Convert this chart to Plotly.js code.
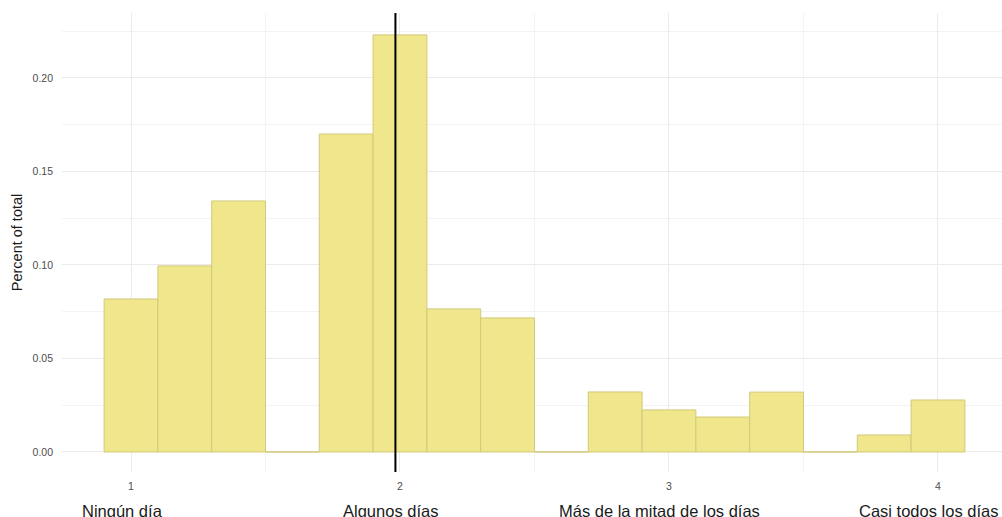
<!DOCTYPE html>
<html>
<head>
<meta charset="utf-8">
<script src="https://cdn.plot.ly/plotly-3.0.1.min.js"></script>
<style>html,body{margin:0;padding:0;background:#fff;}#chart{width:1002px;height:517px;}</style>
</head>
<body>
<div id="chart"></div>
<script>
// Histogram bins (centers) and proportions
const binCenters = [1.0, 1.2, 1.4, 1.6, 1.8, 2.0, 2.2, 2.4, 2.6, 2.8, 3.0, 3.2, 3.4, 3.6, 3.8, 4.0];
const proportions = [0.0818, 0.0995, 0.1342, 0, 0.170, 0.223, 0.0765, 0.0717, 0, 0.0321, 0.0225, 0.0187, 0.032, 0, 0.0091, 0.0278];
const binWidth = 0.2;
const meanValue = [1.983];
const tickValues = [1, 2, 3, 4];
const categoryLabels = ["Ningún día", "Algunos días", "Más de la mitad de los días", "Casi todos los días"];
const yTicks = [0, 0.05, 0.10, 0.15, 0.20];
const yTickText = ["0.00", "0.05", "0.10", "0.15", "0.20"];

const font = "Liberation Sans, Arial, sans-serif";

const trace = {
  type: "bar",
  x: binCenters,
  y: proportions,
  width: binCenters.map(() => binWidth),
  marker: { color: "#F0E68C", line: { color: "#D2C979", width: 1 } },
  hoverinfo: "x+y"
};

const annotations = tickValues.map((v, i) => ({
  x: v, xref: "x", y: 0, yref: "paper", yanchor: "top", yshift: -28, xshift: -9,
  text: categoryLabels[i], showarrow: false,
  font: { family: font, size: 16.5, color: "#1a1a1a" }
}));

const layout = {
  width: 1002, height: 517,
  margin: { l: 62, r: 0, t: 13, b: 45 },
  paper_bgcolor: "#fff", plot_bgcolor: "#fff",
  showlegend: false,
  bargap: 0,
  xaxis: {
    range: [0.7435, 4.238],
    tickvals: tickValues, ticktext: tickValues.map(String),
    ticks: "", ticklabelstandoff: 6,
    tickfont: { family: font, size: 10.5, color: "#4d4d4d" },
    showgrid: true, gridcolor: "#ebebeb", gridwidth: 1,
    minor: { dtick: 0.5, tick0: 0.5, showgrid: true, gridcolor: "#f3f3f3", gridwidth: 1 },
    zeroline: false, showline: false, fixedrange: true
  },
  yaxis: {
    range: [-0.0107, 0.2347],
    tickvals: yTicks, ticktext: yTickText,
    ticks: "", ticklabelstandoff: 8,
    tickfont: { family: font, size: 10.5, color: "#4d4d4d" },
    title: { text: "Percent of total", font: { family: font, size: 14.5, color: "#1a1a1a" }, standoff: 6 },
    showgrid: true, gridcolor: "#ebebeb", gridwidth: 1,
    minor: { dtick: 0.025, tick0: 0, showgrid: true, gridcolor: "#f3f3f3", gridwidth: 1 },
    zeroline: false, showline: false, fixedrange: true
  },
  shapes: meanValue.map(m => ({
    type: "line", xref: "x", yref: "paper", x0: m, x1: m, y0: 0, y1: 1,
    line: { color: "#000", width: 2 }
  })),
  annotations: annotations
};

Plotly.newPlot("chart", [trace], layout, { displayModeBar: false, staticPlot: true });
</script>
</body>
</html>
